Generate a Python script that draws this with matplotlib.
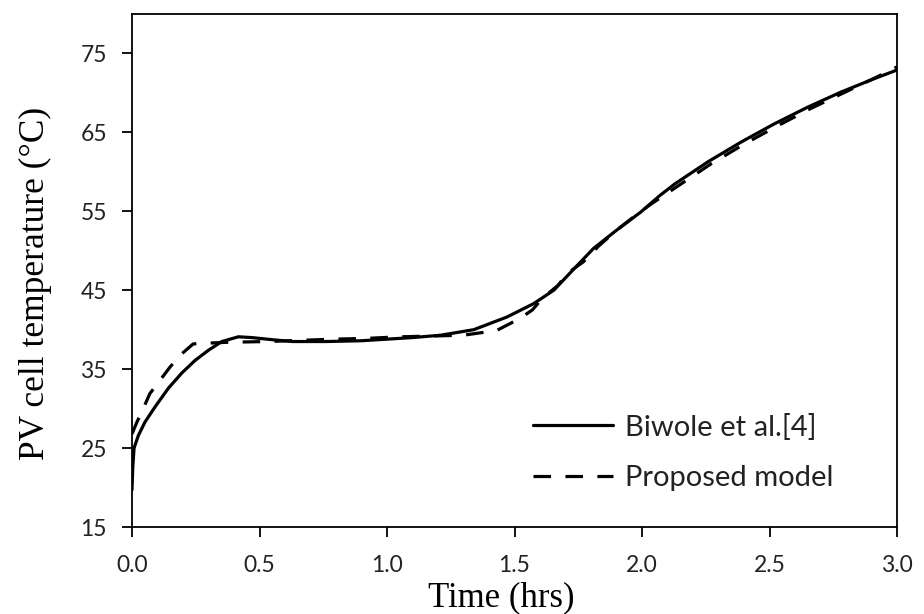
import matplotlib
matplotlib.use("Agg")
import matplotlib.pyplot as plt

# Biwole et al.[4]
t_ref = [0.0, 0.003, 0.008, 0.025, 0.051, 0.09, 0.143, 0.195, 0.247, 0.30, 0.352,
         0.417, 0.47, 0.56, 0.63, 0.76, 0.90, 1.00, 1.10, 1.21, 1.34, 1.47, 1.575,
         1.654, 1.733, 1.81, 1.90, 1.995, 2.07, 2.13, 2.26, 2.39, 2.52, 2.65, 2.78,
         2.91, 3.00]
T_ref = [19.7, 22.5, 25.0, 26.6, 28.3, 30.2, 32.6, 34.5, 36.1, 37.4, 38.5,
         39.1, 39.0, 38.7, 38.5, 38.5, 38.6, 38.8, 39.0, 39.3, 40.0, 41.6, 43.3,
         45.0, 47.7, 50.3, 52.6, 54.9, 57.0, 58.5, 61.3, 63.8, 66.1, 68.2, 70.1,
         71.8, 72.9]

# Proposed model
t_mod = [0.0, 0.018, 0.044, 0.07, 0.11, 0.15, 0.19, 0.24, 0.30, 0.37, 0.53, 0.79,
         0.92, 1.05, 1.18, 1.30, 1.43, 1.52, 1.57, 1.61, 1.67, 1.71, 1.77, 1.83,
         1.90, 1.96, 2.03, 2.15, 2.27, 2.40, 2.53, 2.66, 2.79, 2.92, 3.00]
T_mod = [26.8, 28.2, 30.0, 31.9, 33.6, 35.3, 36.8, 38.2, 38.3, 38.4, 38.5, 38.8,
         38.9, 39.1, 39.2, 39.3, 39.9, 41.4, 42.5, 44.0, 45.6, 47.2, 48.6, 50.6,
         52.6, 54.1, 55.8, 58.4, 61.0, 63.5, 65.8, 68.0, 70.0, 72.0, 73.3]

x_ticks = [0.0, 0.5, 1.0, 1.5, 2.0, 2.5, 3.0]
y_ticks = [15, 25, 35, 45, 55, 65, 75]

tick_font = ["Lato", "DejaVu Sans"]
label_font = ["Liberation Serif", "DejaVu Serif"]

fig = plt.figure(figsize=(9.24, 6.14), dpi=100)
ax = fig.add_axes([132 / 924, 1 - 527 / 614, (897 - 132) / 924, (527 - 14) / 614])

ax.plot(t_ref, T_ref, color="black", lw=2.3, solid_capstyle="round",
        solid_joinstyle="round", label="Biwole et al.[4]")
ax.plot(t_mod, T_mod, color="black", lw=2.3, linestyle=(0, (5.5, 4.5)),
        dash_joinstyle="round", label="Proposed model")

ax.set_xlim(0, 3.0)
ax.set_ylim(15, 80)
ax.set_xticks(x_ticks)
ax.set_yticks(y_ticks)
ax.set_xticklabels([f"{v:.1f}" for v in x_ticks], family=tick_font, fontsize=16.5, color="#222222")
ax.set_yticklabels([str(v) for v in y_ticks], family=tick_font, fontsize=16.5, color="#222222")
ax.tick_params(direction="out", length=7.5, width=1.3)
ax.tick_params(axis="x", pad=12.5)
ax.tick_params(axis="y", pad=10.5)
for s in ax.spines.values():
    s.set_linewidth(1.3)

ax.set_xlabel("Time (hrs)", family=label_font, fontsize=25)
ax.xaxis.set_label_coords(0.4824, -0.105)
ax.set_ylabel("PV cell temperature (°C)", family=label_font, fontsize=25.5)
ax.yaxis.set_label_coords(-0.1046, 0.4756)

leg = ax.legend(loc="upper left", bbox_to_anchor=(0.524, 0.221), frameon=False,
                borderpad=0, borderaxespad=0,
                handlelength=2.74, handletextpad=0.41, labelspacing=0.85,
                prop={"family": tick_font, "size": 21})
for txt in leg.get_texts():
    txt.set_color("#222222")

fig.savefig("out.png", dpi=100)
